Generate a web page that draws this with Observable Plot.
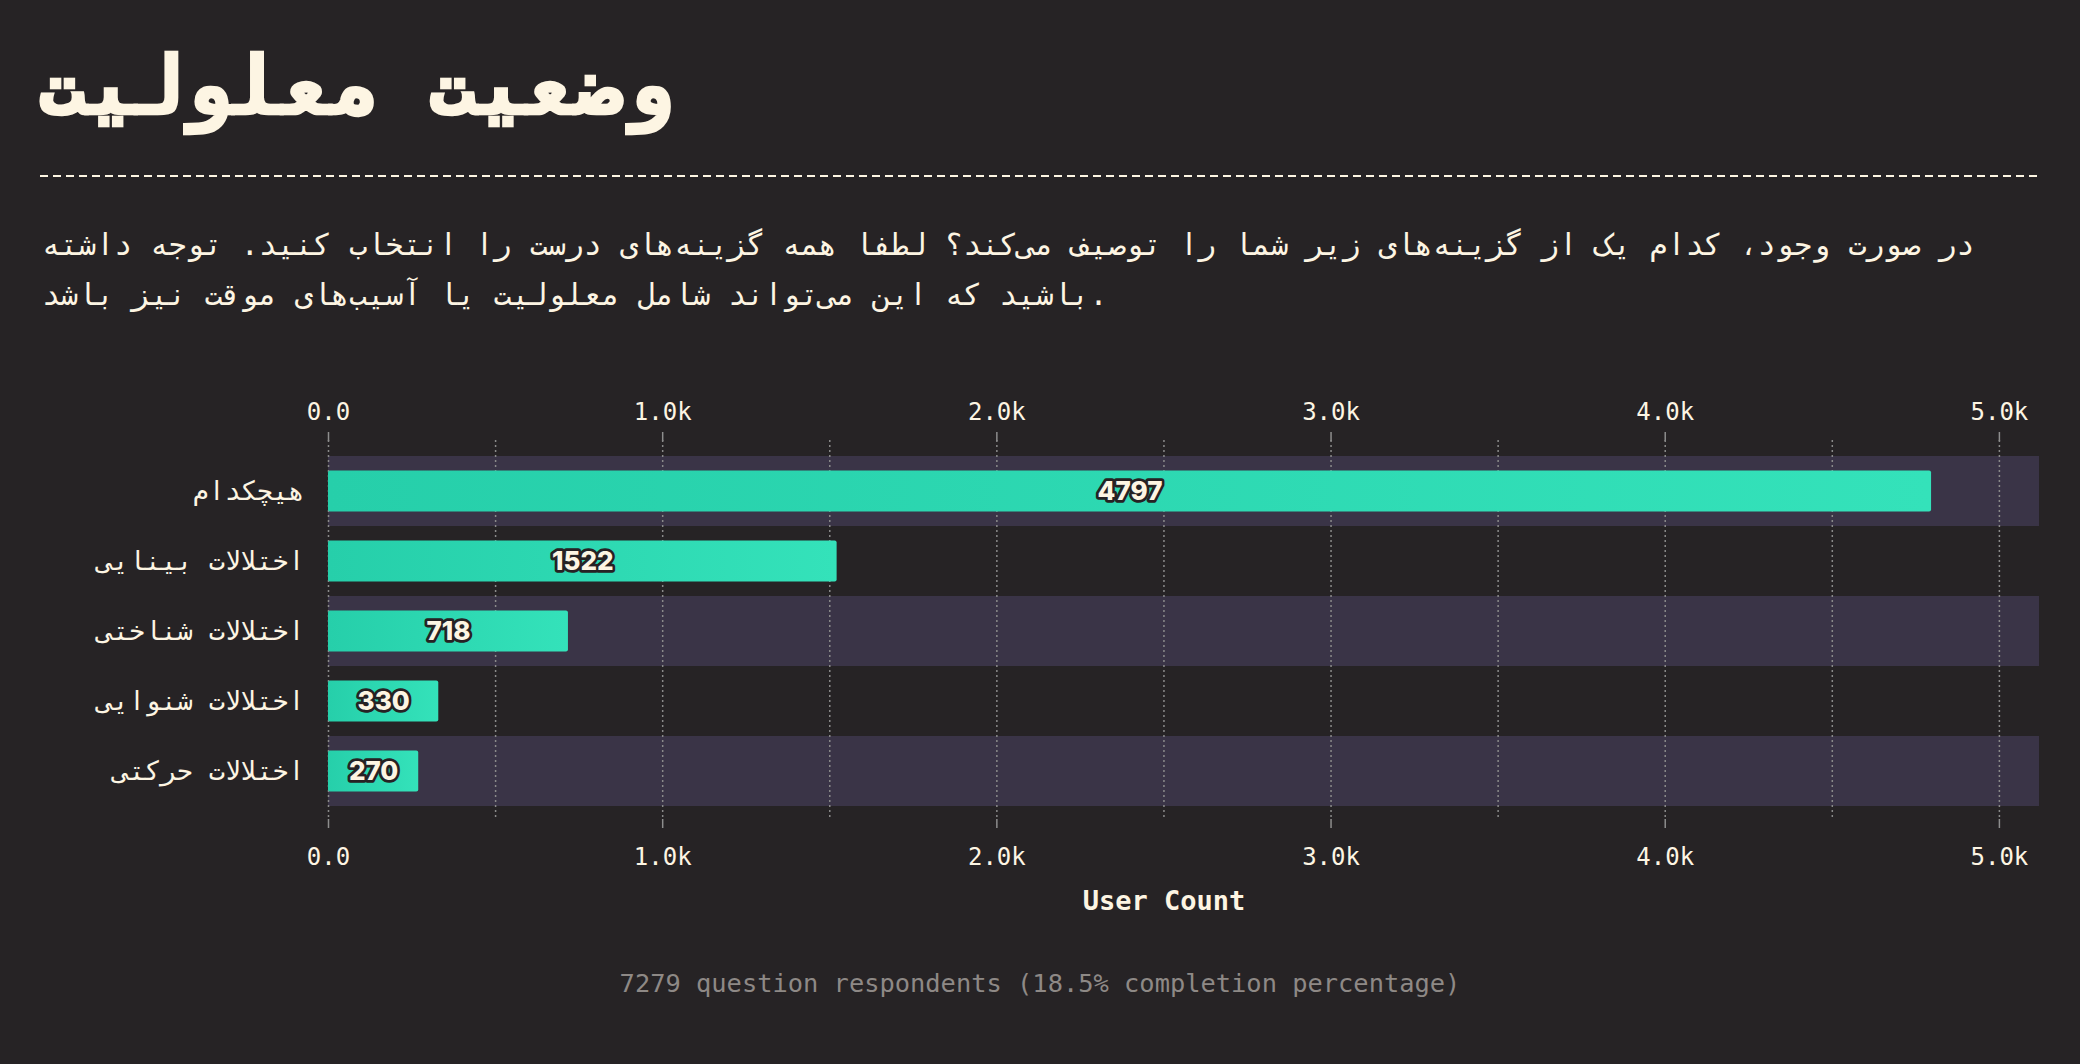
<!DOCTYPE html>
<html>
<head>
<meta charset="utf-8">
<script src="https://cdn.jsdelivr.net/npm/d3@7"></script>
<script src="https://cdn.jsdelivr.net/npm/@observablehq/plot@0.6"></script>
<style>
  html, body { margin: 0; padding: 0; background: #262325; }
  body { width: 2080px; height: 1064px; position: relative; overflow: hidden; font-family: "DejaVu Sans Mono", monospace; color: #fdf5e3; }
  #title { position: absolute; left: 38px; top: 46px; font-size: 81px; line-height: 80px; font-weight: bold; white-space: nowrap; -webkit-text-stroke: 2.5px #fdf5e3; }
  #rule { position: absolute; left: 40px; top: 175px; width: 1999px; height: 2px;
          background: repeating-linear-gradient(to right, #fdf5e3 0 8px, transparent 8px 13px); }
  #subtitle { position: absolute; left: 42px; top: 220px; width: 1997px; font-size: 30px; line-height: 50px; }
  #chart { position: absolute; left: 0; top: 380px; }
  #footer { position: absolute; left: 0; top: 968px; width: 2080px; text-align: center; font-size: 25.4px; line-height: 30px; color: #8e8986; }
</style>
</head>
<body>
<div id="title"></div>
<div id="rule"></div>
<div id="subtitle"></div>
<div id="chart"></div>
<div id="footer"></div>
<script>
// ---- data ----
const titleText = "وضعیت معلولیت";
const subtitleText = "در صورت وجود، کدام یک از گزینه‌های زیر شما را توصیف می‌کند؟ لطفا همه گزینه‌های درست را انتخاب کنید. توجه داشته باشید که این می‌تواند شامل معلولیت یا آسیب‌های موقت نیز باشد.";
const categories = ["هیچکدام", "اختلالات بینایی", "اختلالات شناختی", "اختلالات شنوایی", "اختلالات حرکتی"];
const counts = [4797, 1522, 718, 330, 270];
const majorTicks = [0, 1000, 2000, 3000, 4000, 5000];
const gridTicks = [0, 500, 1000, 1500, 2000, 2500, 3000, 3500, 4000, 4500, 5000];
const xMax = 5120;
const xLabel = "User Count";
const footerText = "7279 question respondents (18.5% completion percentage)";

document.getElementById("title").textContent = titleText;
document.getElementById("subtitle").textContent = subtitleText;
document.getElementById("footer").textContent = footerText;

const data = categories.map((c, i) => ({cat: c, value: counts[i]}));
const bands = categories.filter((c, i) => i % 2 === 0);
const fmt = d => d === 0 ? "0.0" : (d / 1000).toFixed(1) + "k";
const labelPos = d3.mean(d3.extent(majorTicks));

const cream = "#fdf5e3";
const mono = "'DejaVu Sans Mono', monospace";

const svg = Plot.plot({
  width: 2080,
  height: 550,
  marginLeft: 328,
  marginRight: 41,
  marginTop: 60,
  marginBottom: 111,
  style: {background: "transparent", color: cream, fontFamily: mono, fontSize: "24px"},
  x: {domain: [0, xMax]},
  y: {domain: categories, padding: 0, insetTop: 16, insetBottom: 13},
  marks: [
    Plot.barX(bands, {y: d => d, x1: 0, x2: xMax, fill: "#3a3447"}),
    Plot.ruleX(gridTicks, {stroke: "#8a8a8a", strokeWidth: 1.5, strokeDasharray: "2,3"}),
    Plot.barX(data, {y: "cat", x: "value", fill: "url(#barGrad)", insetTop: 14.5, insetBottom: 14.5, rx: 2}),
    Plot.text(data, {
      y: "cat", x: d => d.value / 2, text: d => String(d.value),
      fill: cream, stroke: "#262224", strokeWidth: 5.5, paintOrder: "stroke",
      fontSize: 26, fontWeight: 800, fontFamily: "Inter, Roboto, sans-serif"
    }),
    Plot.axisX(majorTicks, {anchor: "top", tickSize: 9, tickPadding: 12, tickFormat: fmt, fontSize: 24, stroke: "#8d8d8d", strokeWidth: 1.5, fill: cream, label: null}),
    Plot.axisX(majorTicks, {anchor: "bottom", tickSize: 9, tickPadding: 19, tickFormat: fmt, fontSize: 24, stroke: "#8d8d8d", strokeWidth: 1.5, fill: cream, label: null}),
    Plot.axisY({tickSize: 0, tickPadding: 24, fontSize: 26.5, fill: cream, label: null}),
    Plot.text([xLabel], {x: labelPos, frameAnchor: "bottom", dy: 90, text: d => d, fill: cream, fontSize: 27, fontWeight: "bold", fontFamily: mono})
  ]
});

const defs = d3.select(svg).insert("defs", ":first-child");
const grad = defs.append("linearGradient").attr("id", "barGrad").attr("x1", 0).attr("x2", 1).attr("y1", 0).attr("y2", 0);
grad.append("stop").attr("offset", "0%").attr("stop-color", "#26cfaa");
grad.append("stop").attr("offset", "100%").attr("stop-color", "#34e2ba");

document.getElementById("chart").appendChild(svg);
</script>
</body>
</html>
